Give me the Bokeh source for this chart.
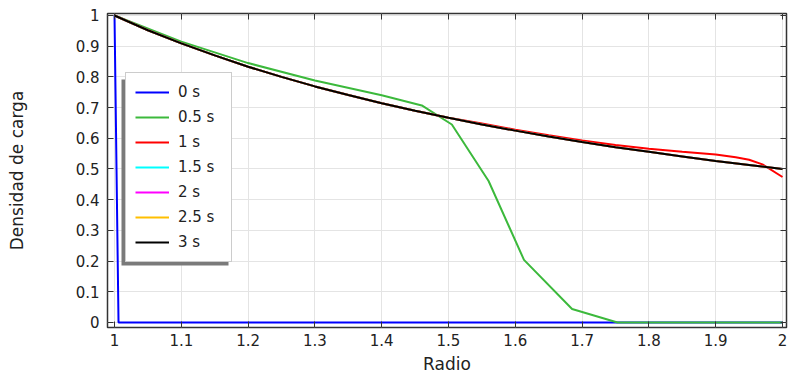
from bokeh.plotting import figure
from bokeh.models import Range1d, LinearAxis, FixedTicker, Legend, LegendItem, BoxAnnotation
from bokeh.embed import file_html
from bokeh.resources import INLINE

# ---- data ----
r_ref = [1.0, 1.05, 1.1, 1.15, 1.2, 1.25, 1.3, 1.35, 1.4, 1.45, 1.5,
         1.55, 1.6, 1.65, 1.7, 1.75, 1.8, 1.85, 1.9, 1.95, 2.0]
rho_3s = [1.0, 0.952, 0.909, 0.870, 0.833, 0.800, 0.769, 0.741, 0.714, 0.690, 0.667,
          0.645, 0.625, 0.606, 0.588, 0.571, 0.556, 0.541, 0.526, 0.513, 0.500]
rho_25s = list(rho_3s)
rho_2s = list(rho_3s)
rho_15s = list(rho_3s)

r_1s = [1.0, 1.05, 1.1, 1.15, 1.2, 1.25, 1.3, 1.35, 1.4, 1.45, 1.5,
        1.55, 1.6, 1.65, 1.7, 1.75, 1.8, 1.85, 1.9, 1.93, 1.95, 1.97, 2.0]
rho_1s = [1.0, 0.952, 0.909, 0.870, 0.833, 0.800, 0.769, 0.741, 0.714, 0.690, 0.667,
          0.648, 0.628, 0.610, 0.593, 0.578, 0.566, 0.556, 0.547, 0.538, 0.530, 0.515, 0.474]

r_05s = [1.0, 1.1, 1.2, 1.3, 1.4, 1.46, 1.505, 1.56, 1.613, 1.685, 1.753, 1.8, 2.0]
rho_05s = [1.0, 0.915, 0.845, 0.788, 0.740, 0.707, 0.645, 0.461, 0.204, 0.044, 0.0, 0.0, 0.0]

r_0s = [1.0, 1.003, 1.006, 2.0]
rho_0s = [1.0, 0.5, 0.0, 0.0]

x_ticks = [1, 1.1, 1.2, 1.3, 1.4, 1.5, 1.6, 1.7, 1.8, 1.9, 2]
x_labels = ["1", "1.1", "1.2", "1.3", "1.4", "1.5", "1.6", "1.7", "1.8", "1.9", "2"]
y_ticks = [0, 0.1, 0.2, 0.3, 0.4, 0.5, 0.6, 0.7, 0.8, 0.9, 1]
y_labels = ["0", "0.1", "0.2", "0.3", "0.4", "0.5", "0.6", "0.7", "0.8", "0.9", "1"]

series = [
    ("0 s", r_0s, rho_0s, "#0000ff", 2),
    ("0.5 s", r_05s, rho_05s, "#3cb93c", 2),
    ("1 s", r_1s, rho_1s, "#ff0000", 2),
    ("1.5 s", r_ref, rho_15s, "#00ffff", 2),
    ("2 s", r_ref, rho_2s, "#ff00ff", 2),
    ("2.5 s", r_ref, rho_25s, "#ffbf00", 2),
    ("3 s", r_ref, rho_3s, "#000000", 2),
]

FONT = "DejaVu Sans"

p = figure(frame_width=679, frame_height=314,
           x_range=Range1d(0.9895, 2.006), y_range=Range1d(-0.0163, 1.0065),
           output_backend="svg", toolbar_location=None,
           min_border_left=107, min_border_top=13, min_border_right=2, min_border_bottom=45,
           x_axis_label="Radio", y_axis_label="Densidad de carga")
p.outline_line_color = "#333333"
p.outline_line_width = 1.5
p.background_fill_color = "white"
p.border_fill_color = "white"

p.xgrid.ticker = FixedTicker(ticks=x_ticks)
p.ygrid.ticker = FixedTicker(ticks=y_ticks)
p.grid.grid_line_color = "#e4e4e4"
p.grid.grid_line_width = 1

def key(t):
    return int(t) if float(t).is_integer() else t

def style_axis(ax, ticks, labels, show_labels=True):
    ax.ticker = FixedTicker(ticks=ticks)
    ax.minor_tick_line_color = None
    ax.major_tick_in = 6
    ax.major_tick_out = 0
    ax.major_tick_line_color = "#333333"
    ax.major_tick_line_width = 1
    ax.axis_line_color = None
    if show_labels:
        ax.major_label_overrides = {key(t): l for t, l in zip(ticks, labels)}
        ax.major_label_text_font = FONT
        ax.major_label_text_font_size = "15px"
        ax.major_label_text_color = "#222222"
        ax.major_label_standoff = 8
        ax.axis_label_text_font = FONT
        ax.axis_label_text_font_size = "17px"
        ax.axis_label_text_font_style = "normal"
        ax.axis_label_text_color = "#222222"
    else:
        ax.major_label_overrides = {key(t): "" for t in ticks}
        ax.major_label_standoff = 0

style_axis(p.xaxis[0], x_ticks, x_labels)
p.xaxis[0].major_label_standoff = 6
p.xaxis[0].axis_label_standoff = 5
style_axis(p.yaxis[0], y_ticks, y_labels)
p.yaxis[0].axis_label_standoff = 46

top_ax = LinearAxis()
style_axis(top_ax, x_ticks, x_labels, show_labels=False)
p.add_layout(top_ax, "above")
right_ax = LinearAxis()
style_axis(right_ax, y_ticks, y_labels, show_labels=False)
p.add_layout(right_ax, "right")

items = []
for name, xs, ys, col, w in series:
    rend = p.line(xs, ys, line_color=col, line_width=w)
    items.append(LegendItem(label=name, renderers=[rend]))

shadow = BoxAnnotation(left=14, right=121, bottom=62, top=248,
                       left_units="screen", right_units="screen",
                       bottom_units="screen", top_units="screen",
                       fill_color="#7a7a7a", fill_alpha=1.0, line_color=None)
p.add_layout(shadow)

legend = Legend(items=items, location=(18, 65),
                label_text_font=FONT, label_text_font_size="15px",
                label_text_color="#222222",
                glyph_width=34, glyph_height=20, label_height=20,
                label_width=44, label_standoff=9, spacing=5, padding=9,
                border_line_color="#999999", border_line_width=1,
                background_fill_color="white", background_fill_alpha=1.0)
p.add_layout(legend, "center")

open("out.html", "w").write(file_html(p, INLINE))
